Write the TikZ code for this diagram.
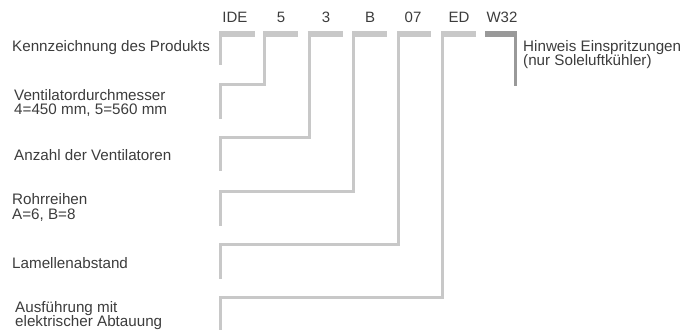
\documentclass[tikz,border=0pt]{standalone}
\usepackage{fontspec}
\setmainfont{Liberation Sans}
\definecolor{txt}{HTML}{3C3C3C}
\definecolor{linegray}{HTML}{C8C8C8}
\definecolor{darkgray}{HTML}{999999}
\begin{document}
\begin{tikzpicture}[x=1pt,y=-1pt,
  lbl/.style={anchor=west,inner sep=0pt,align=left,text=txt,font=\fontsize{15.2}{14.6}\selectfont},
  code/.style={anchor=center,inner sep=0pt,text=txt,font=\fontsize{15}{15}\selectfont},
  bar/.style={draw=linegray,line width=6pt,line cap=butt},
  conn/.style={draw=linegray,line width=3pt,line cap=butt,line join=miter},
  darkbar/.style={bar,draw=darkgray},
  darkconn/.style={conn,draw=darkgray}]
\useasboundingbox (0,0) rectangle (681,330);
% code letters
\node[code] (tIDE) at (235,17) {IDE};
\node[code] (t5) at (281,17) {5};
\node[code] (t3) at (326,17) {3};
\node[code] (tB) at (370,17) {B};
\node[code] (t07) at (413,17) {07};
\node[code] (tED) at (459,17) {ED};
\node[code] (tW) at (502,17) {W32};
% labels
\node[lbl] (kenn) at (12,48) {Kennzeichnung des Produkts};
\node[lbl] (vent) at (14,103) {Ventilatordurchmesser\\4=450 mm, 5=560 mm};
\node[lbl] (anz) at (14,155) {Anzahl der Ventilatoren};
\node[lbl] (rohr) at (12,207.5) {Rohrreihen\\A=6, B=8};
\node[lbl] (lam) at (12,263) {Lamellenabstand};
\node[lbl] (aus) at (15,315.5) {Ausführung mit\\elektrischer Abtauung};
\node[lbl] (hin) at (523,54.5) {Hinweis Einspritzungen\\(nur Soleluftkühler)};
% bar coordinates
\coordinate (bIDEa) at (219,34); \coordinate (bIDEb) at (255,34);
\coordinate (b5a) at (263,34);   \coordinate (b5b) at (298,34);
\coordinate (b3a) at (307.5,34); \coordinate (b3b) at (343,34);
\coordinate (bBa) at (352,34);   \coordinate (bBb) at (387,34);
\coordinate (b07a) at (397,34);  \coordinate (b07b) at (431,34);
\coordinate (bEDa) at (441,34);  \coordinate (bEDb) at (476,34);
\coordinate (bWa) at (485,34);   \coordinate (bWb) at (517,34);
% bars
\draw[bar] (bIDEa) -- (bIDEb);
\draw[bar] (b5a) -- (b5b);
\draw[bar] (b3a) -- (b3b);
\draw[bar] (bBa) -- (bBb);
\draw[bar] (b07a) -- (b07b);
\draw[bar] (bEDa) -- (bEDb);
\draw[darkbar] (bWa) -- (bWb);
% connectors
\draw[conn] (220.5,34) -- (220.5,65);
\draw[conn] (264.5,34) -- (264.5,84.5) -- (220.5,84.5) -- (220.5,119);
\draw[conn] (309,34) -- (309,137) -- (220.5,137) -- (220.5,171);
\draw[conn] (353.5,34) -- (353.5,191) -- (220.5,191) -- (220.5,225.5);
\draw[conn] (398.5,34) -- (398.5,244.5) -- (220.5,244.5) -- (220.5,278.5);
\draw[conn] (442.5,34) -- (442.5,297.5) -- (220.5,297.5) -- (220.5,330);
\draw[darkconn] (515.5,34) -- (515.5,86);
\end{tikzpicture}
\end{document}
